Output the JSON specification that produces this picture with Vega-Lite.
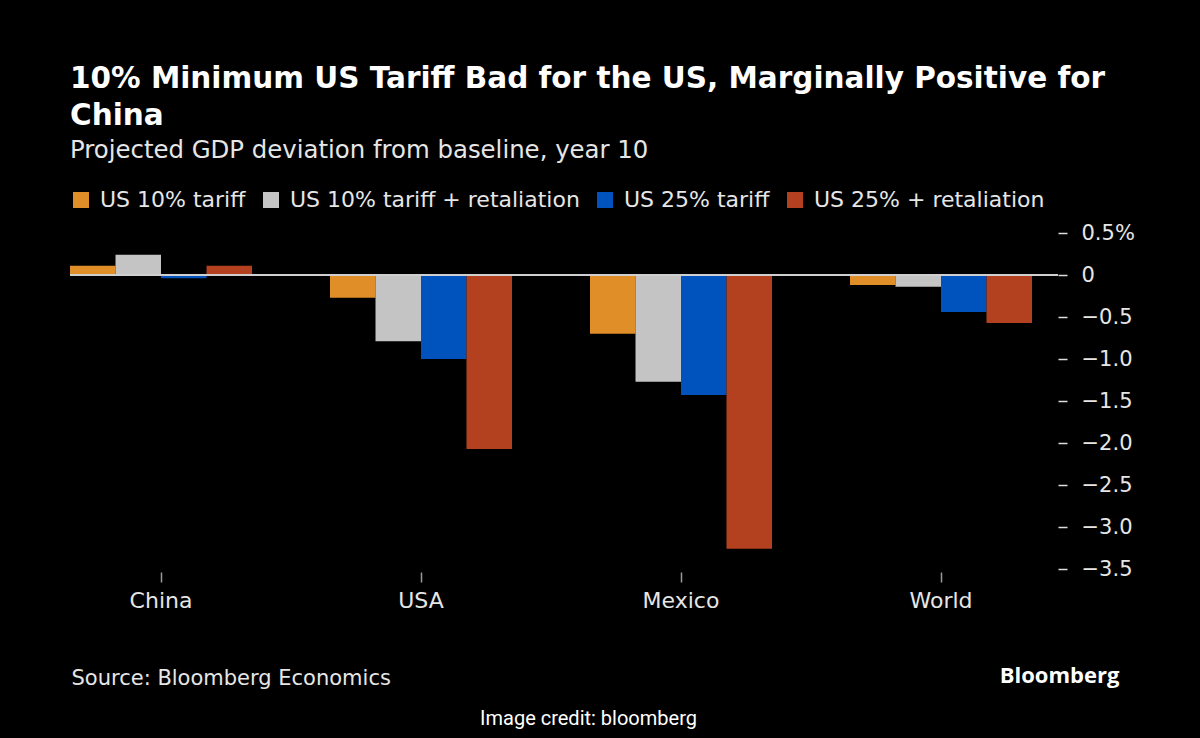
{
  "$schema": "https://vega.github.io/schema/vega-lite/v6.json",
  "width": 988,
  "height": 336,
  "autosize": {"type": "none"},
  "padding": {"left": 70, "top": 233, "right": 142, "bottom": 169},
  "background": "#000000",
  "config": {"view": {"stroke": null}},
  "title": {
    "text": ["10% Minimum US Tariff Bad for the US, Marginally Positive for", "China"],
    "subtitle": "Projected GDP deviation from baseline, year 10",
    "anchor": "start",
    "frame": "group",
    "font": "DejaVu Sans",
    "fontSize": 29.5,
    "fontWeight": "bold",
    "color": "#ffffff",
    "lineHeight": 37,
    "subtitleFont": "DejaVu Sans",
    "subtitleFontSize": 24.4,
    "subtitleColor": "#e6e6e6",
    "subtitlePadding": 7,
    "offset": 26
  },
  "data": {
    "values": [
      {"region": "China", "scenario": "US 10% tariff", "value": 0.11},
      {"region": "China", "scenario": "US 10% tariff + retaliation", "value": 0.24},
      {"region": "China", "scenario": "US 25% tariff", "value": -0.04},
      {"region": "China", "scenario": "US 25% + retaliation", "value": 0.11},
      {"region": "USA", "scenario": "US 10% tariff", "value": -0.27},
      {"region": "USA", "scenario": "US 10% tariff + retaliation", "value": -0.79},
      {"region": "USA", "scenario": "US 25% tariff", "value": -1.0},
      {"region": "USA", "scenario": "US 25% + retaliation", "value": -2.07},
      {"region": "Mexico", "scenario": "US 10% tariff", "value": -0.7},
      {"region": "Mexico", "scenario": "US 10% tariff + retaliation", "value": -1.27},
      {"region": "Mexico", "scenario": "US 25% tariff", "value": -1.43},
      {"region": "Mexico", "scenario": "US 25% + retaliation", "value": -3.26},
      {"region": "World", "scenario": "US 10% tariff", "value": -0.12},
      {"region": "World", "scenario": "US 10% tariff + retaliation", "value": -0.14},
      {"region": "World", "scenario": "US 25% tariff", "value": -0.44},
      {"region": "World", "scenario": "US 25% + retaliation", "value": -0.57}
    ]
  },
  "resolve": {"axis": {"y": "independent"}},
  "layer": [
    {
      "mark": {"type": "bar"},
      "encoding": {
        "x": {
          "field": "region",
          "type": "nominal",
          "sort": ["China", "USA", "Mexico", "World"],
          "scale": {"paddingInner": 0.3, "paddingOuter": 0.05, "align": 0},
          "axis": {
            "orient": "bottom",
            "domain": false,
            "grid": false,
            "ticks": true,
            "tickColor": "#9a9a9a",
            "tickSize": 10,
            "tickWidth": 1.5,
            "offset": 3,
            "labelAngle": 0,
            "labelFont": "DejaVu Sans",
            "labelFontSize": 22,
            "labelColor": "#e6e6e6",
            "labelPadding": 8,
            "title": "Source: Bloomberg Economics",
            "titleFont": "DejaVu Sans",
            "titleFontSize": 21,
            "titleFontWeight": "normal",
            "titleColor": "#e6e6e6",
            "titleAlign": "left",
            "titleBaseline": "alphabetic",
            "titleX": 1,
            "titleY": 112
          }
        },
        "xOffset": {
          "field": "scenario",
          "type": "nominal",
          "sort": ["US 10% tariff", "US 10% tariff + retaliation", "US 25% tariff", "US 25% + retaliation"],
          "scale": {"paddingInner": 0, "paddingOuter": 0}
        },
        "y": {
          "field": "value",
          "type": "quantitative",
          "scale": {"domain": [-3.5, 0.5], "nice": false, "zero": false},
          "axis": {
            "orient": "right",
            "values": [0.5, 0, -0.5, -1, -1.5, -2, -2.5, -3, -3.5],
            "labelExpr": "datum.value == 0.5 ? '0.5%' : (datum.value == 0 ? '0' : format(datum.value, '.1f'))",
            "domain": false,
            "grid": false,
            "ticks": true,
            "tickColor": "#dddddd",
            "tickSize": 9,
            "tickWidth": 1.5,
            "labelFont": "DejaVu Sans",
            "labelFontSize": 21,
            "labelColor": "#e6e6e6",
            "labelPadding": 14,
            "labelAlign": "left",
            "title": "Bloomberg",
            "titleAngle": 0,
            "titleFont": "Open Sans",
            "titleFontSize": 22,
            "titleFontWeight": "bold",
            "titleColor": "#ffffff",
            "titleAlign": "center",
            "titleBaseline": "alphabetic",
            "titleX": 1,
            "titleY": 449
          }
        },
        "color": {
          "field": "scenario",
          "type": "nominal",
          "scale": {
            "domain": ["US 10% tariff", "US 10% tariff + retaliation", "US 25% tariff", "US 25% + retaliation"],
            "range": ["#e08f28", "#c4c4c4", "#0052bd", "#b3401e"]
          },
          "legend": {
            "orient": "none",
            "legendX": 0,
            "legendY": -44,
            "direction": "horizontal",
            "columns": 4,
            "title": null,
            "symbolType": "square",
            "symbolSize": 256,
            "symbolStrokeWidth": 0,
            "labelFont": "DejaVu Sans",
            "labelFontSize": 22,
            "labelLimit": 0,
            "labelColor": "#e6e6e6",
            "labelOffset": 8,
            "columnPadding": 14
          }
        }
      }
    },
    {
      "mark": {"type": "rule", "color": "#cfcfcf", "strokeWidth": 2},
      "encoding": {
        "y": {
          "datum": 0,
          "type": "quantitative",
          "axis": {
            "orient": "left",
            "labels": false,
            "ticks": false,
            "domain": false,
            "grid": false,
            "title": "Image credit: bloomberg",
            "titleAngle": 0,
            "titleFont": "Roboto",
            "titleFontSize": 20,
            "titleFontWeight": "normal",
            "titleColor": "#ffffff",
            "titleAlign": "center",
            "titleBaseline": "alphabetic",
            "titleX": 518,
            "titleY": 491
          }
        }
      }
    }
  ]
}
